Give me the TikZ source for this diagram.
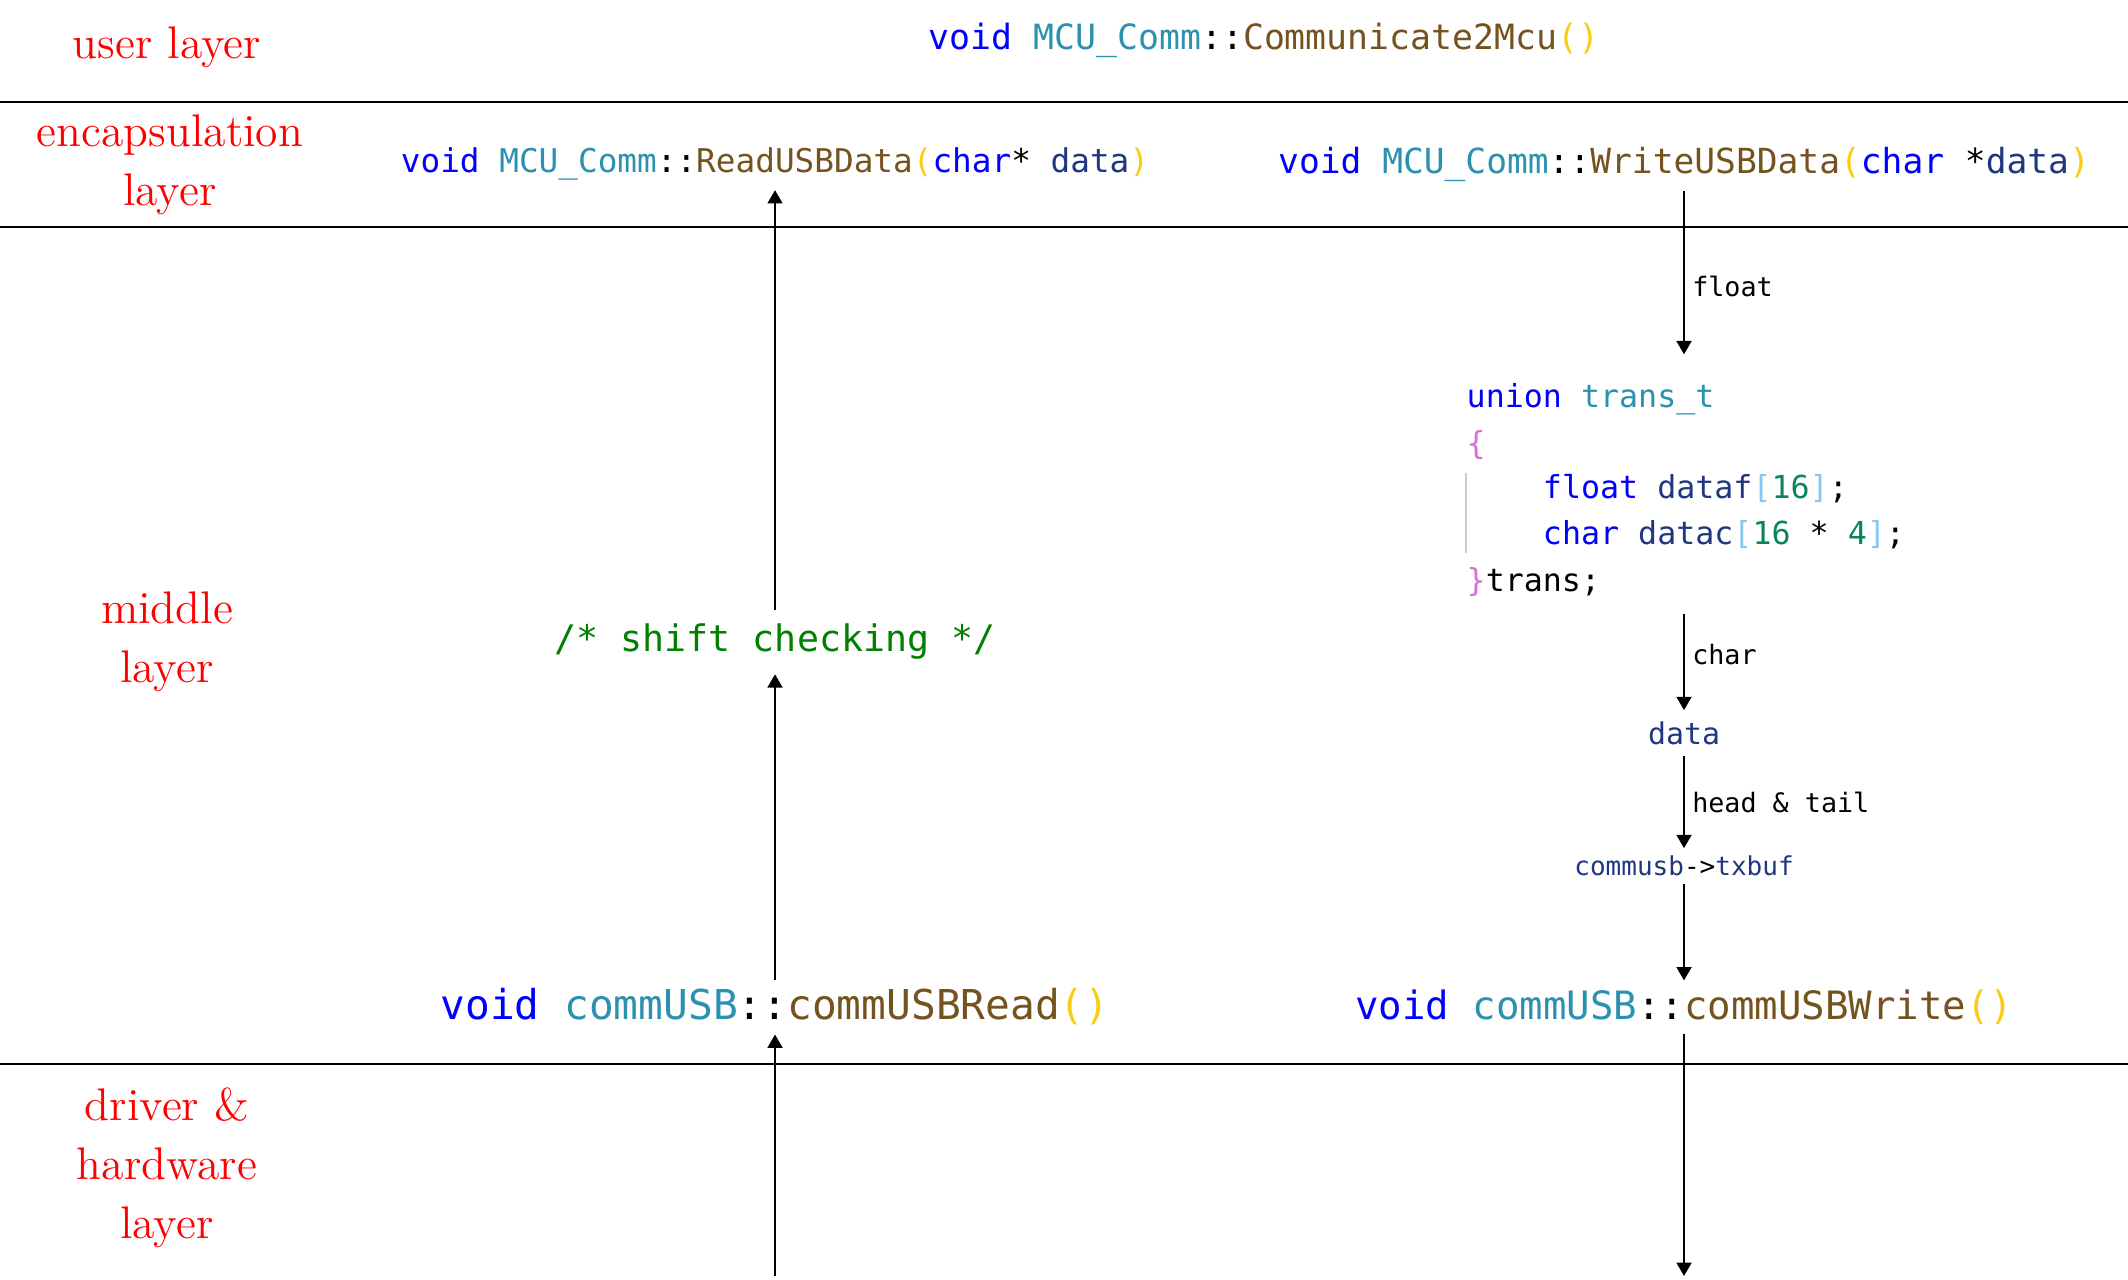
\documentclass[tikz,border=0pt]{standalone}
\usepackage{fontspec}
\newfontfamily\codefont{DejaVu Sans Mono}
\usetikzlibrary{arrows.meta, positioning, calc}

\definecolor{kwblue}{RGB}{0, 0, 255}
\definecolor{typeteal}{RGB}{43, 145, 175}
\definecolor{funcbrown}{RGB}{116, 83, 31}
\definecolor{parengold}{RGB}{250, 205, 20}
\definecolor{paramnavy}{RGB}{31, 55, 127}
\definecolor{numgreen}{RGB}{9, 134, 88}
\definecolor{brackblue}{RGB}{135, 200, 245}
\definecolor{bracepink}{RGB}{218, 112, 214}
\definecolor{cmtgreen}{RGB}{0, 128, 0}
\definecolor{layerred}{RGB}{255, 0, 0}

\newcommand{\vkw}[1]{\textcolor{kwblue}{#1}}
\newcommand{\vtype}[1]{\textcolor{typeteal}{#1}}
\newcommand{\vfunc}[1]{\textcolor{funcbrown}{#1}}
\newcommand{\vparen}[1]{\textcolor{parengold}{#1}}
\newcommand{\vparam}[1]{\textcolor{paramnavy}{#1}}
\newcommand{\vnum}[1]{\textcolor{numgreen}{#1}}
\newcommand{\vbrack}[1]{\textcolor{brackblue}{#1}}
\newcommand{\vbrace}[1]{\textcolor{bracepink}{#1}}

\tikzset{
  layer/.style={text=layerred, align=center, font=\fontsize{13}{16.8}\selectfont},
  code/.style={inner sep=3pt, font={\codefont\fontsize{#1}{#1}\selectfont}},
  uline/.style={anchor=west, inner sep=0pt, text height=7pt, text depth=2pt,
    font={\codefont\fontsize{9}{9}\selectfont}},
  lbl/.style={right, inner sep=2pt, font={\codefont\fontsize{7.6}{8}\selectfont}},
  arr/.style={line width=0.7pt, -{Triangle[length=3.8pt, width=4.2pt]}},
  sep/.style={line width=0.6pt}
}

\begin{document}
\begin{tikzpicture}[x=0.01cm, y=-0.01cm]
  \useasboundingbox (0,0) rectangle (2128,1279);

  % layer borders
  \draw[sep] (0,102) -- (2128,102);
  \draw[sep] (0,227) -- (2128,227);
  \draw[sep] (0,1064) -- (2128,1064);

  % layer names
  \node[layer] (luser) at (167,47) {user layer};
  \node[layer] (lencap) at (170,165) {encapsulation\\layer};
  \node[layer] (lmiddle) at (167,642) {middle\\layer};
  \node[layer] (ldriver) at (167,1168) {driver \&\\hardware\\layer};

  % user and encapsulation layer
  \node[code=9.9] (comm) at (1264,40) {\vkw{void} \vtype{MCU\_Comm}::\vfunc{Communicate2Mcu}\vparen{()}};
  \node[code=9.3, inner ysep=2.6pt] (readusb) at (775,164) {\vkw{void} \vtype{MCU\_Comm}::\vfunc{ReadUSBData}\vparen{(}\vkw{char}* \vparam{data}\vparen{)}};
  \node[code=9.83, inner ysep=2.6pt] (writeusb) at (1684,164) {\vkw{void} \vtype{MCU\_Comm}::\vfunc{WriteUSBData}\vparen{(}\vkw{char} *\vparam{data}\vparen{)}};

  % read side
  \node[code=10.4, text=cmtgreen, inner ysep=3.9pt] (shift) at (775,642) {/* shift checking */};
  \node[code=11.7, inner ysep=2.4pt] (usbread) at (775,1007) {\vkw{void} \vtype{commUSB}::\vfunc{commUSBRead}\vparen{()}};
  \coordinate (readin) at (775,1276);

  % write side
  \node[uline] (u1) at (1466,399) {\vkw{union} \vtype{trans\_t}};
  \node[uline] (u2) at (1466,446) {\vbrace{\{}};
  \node[uline] (u3) at (1466,490) {\phantom{abcd}\vkw{float} \vparam{dataf}\vbrack{[}\vnum{16}\vbrack{]};};
  \node[uline] (u4) at (1466,536) {\phantom{abcd}\vkw{char} \vparam{datac}\vbrack{[}\vnum{16} * \vnum{4}\vbrack{]};};
  \node[uline] (u5) at (1466,583) {\vbrace{\}}trans;};
  \draw[black!20, line width=0.8pt] (u3.north west) -- (u4.south west);

  \node[code=8.5, text=paramnavy] (data) at (1684,733) {data};
  \node[code=7.4, inner ysep=2pt] (txbuf) at (1684,866) {\vparam{commusb}->\vparam{txbuf}};
  \node[code=11.1, inner ysep=2.4pt] (usbwrite) at (1684,1007) {\vkw{void} \vtype{commUSB}::\vfunc{commUSBWrite}\vparen{()}};
  \coordinate (writeout) at (1684,1276);

  % data flow
  \draw[arr] (shift.north) -- (readusb.south);
  \draw[arr] (usbread.north) -- (shift.south);
  \draw[arr] (readin) -- (usbread.south);

  \draw[arr, shorten >=8pt] (writeusb.south) -- (writeusb.south |- u1.north) node[lbl, midway] (lfloat) {float};
  \draw[arr, shorten <=4pt] (data.north |- u5.south) -- (data.north) node[lbl, midway] (lchar) {char};
  \draw[arr] (data.south) -- (txbuf.north) node[lbl, midway] (lhead) {head \& tail};
  \draw[arr] (txbuf.south) -- (usbwrite.north);
  \draw[arr] (usbwrite.south) -- (writeout);
\end{tikzpicture}
\end{document}
